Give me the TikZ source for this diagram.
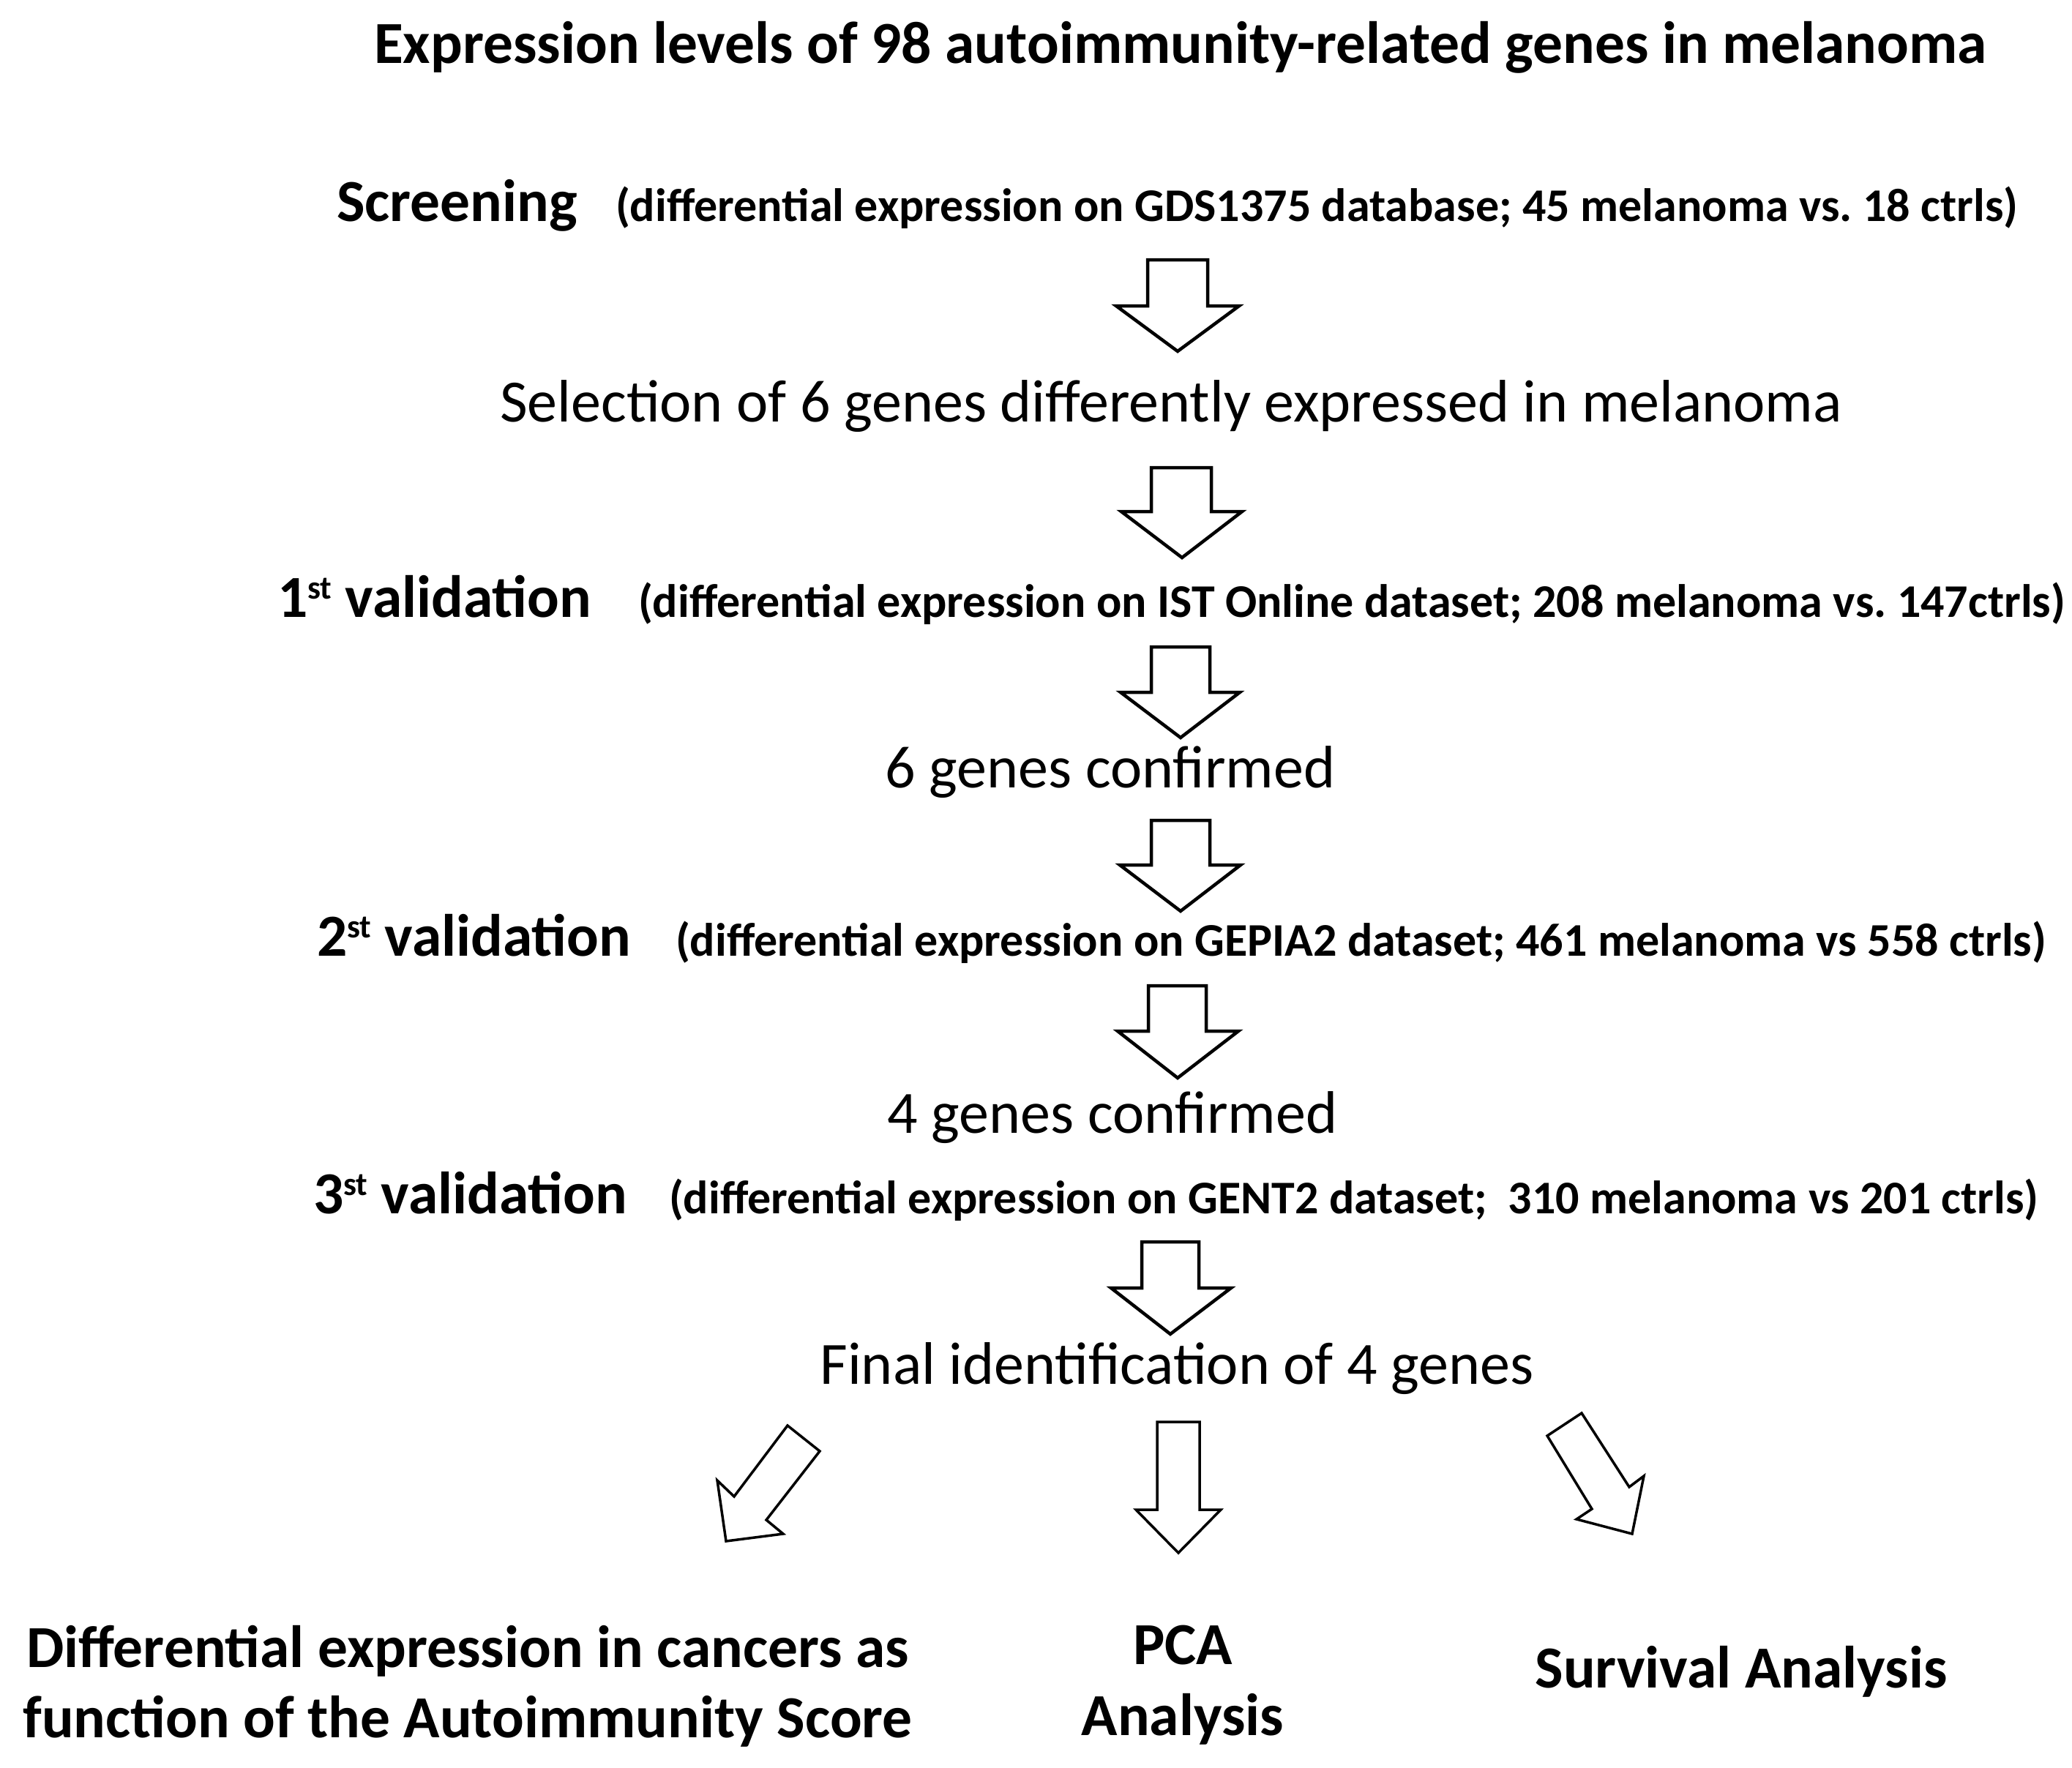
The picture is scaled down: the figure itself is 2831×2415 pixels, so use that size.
\documentclass[tikz,border=0pt]{standalone}
\usepackage{fontspec}
\setmainfont{Carlito}
\frenchspacing
\newcommand\supst{\raisebox{25pt}{\fontsize{45}{45}\selectfont st}}
\begin{document}
\begin{tikzpicture}[x=1pt,y=-1pt,
  txt/.style={font=\fontsize{82}{96}\selectfont, inner sep=0pt, outer sep=0pt},
  txtb/.style={font=\fontsize{81.5}{96}\selectfont\bfseries, inner sep=0pt, outer sep=0pt},
  paren/.style={font=\fontsize{64}{70}\selectfont\bfseries, inner sep=0pt, outer sep=0pt},
  blk/.style={draw=black, line width=4.5pt, fill=white, line join=miter}]
\useasboundingbox (0,0) rectangle (2831,2415);
\fill[white] (0,0) rectangle (2831,2415);

% texts
\node[txtb, anchor=base] (title) at (1613,86) {Expression levels of 98 autoimmunity-related genes in melanoma};
\node[txtb, anchor=base west] (scr) at (460,302) {Screening};
\node[paren, anchor=base west] (scrp) at (841,302) {(differential expression on GDS1375 database; 45 melanoma vs. 18 ctrls)};
\node[txt, anchor=base] (sel) at (1600,576) {Selection of 6 genes differently expressed in melanoma};
\node[txtb, anchor=base west] (v1) at (379,843) {1\supst{} validation};
\node[paren, anchor=base west] (v1p) at (872,843) {(differential expression on IST Online dataset; 208 melanoma vs. 147ctrls)};
\node[txt, anchor=base] (c6) at (1517,1076) {6 genes confirmed};
\node[txtb, anchor=base west] (v2) at (433,1306) {2\supst{} validation};
\node[paren, anchor=base west] (v2p) at (923,1306) {(differential expression on GEPIA2 dataset; 461 melanoma vs 558 ctrls)};
\node[txt, anchor=base] (c4) at (1520,1548) {4 genes confirmed};
\node[txtb, anchor=base west] (v3) at (428,1658) {3\supst{} validation};
\node[paren, anchor=base west] (v3p) at (914,1658) {(differential expression on GENT2 dataset;~ 310 melanoma vs 201 ctrls)};
\node[txt, anchor=base] (fin) at (1608,1891) {Final identification of 4 genes};
\node[txtb, anchor=base] (dea) at (639,2278) {Differential expression in cancers as};
\node[txtb, anchor=base] (deb) at (639,2374) {function of the Autoimmunity Score};
\node[txtb, anchor=base] (pcaa) at (1616,2274) {PCA};
\node[txtb, anchor=base] (pcab) at (1616,2371) {Analysis};
\node[txtb, anchor=base] (surv) at (2379,2306) {Survival Analysis};

% vertical block arrows
\draw[blk] (1568,355) -- (1650,355) -- (1650,418) -- (1693,418) -- (1609,480) -- (1525,418) -- (1568,418) -- cycle;
\draw[blk] (1573,639) -- (1655,639) -- (1655,699) -- (1697,699) -- (1615,762) -- (1532,699) -- (1573,699) -- cycle;
\draw[blk] (1573,884) -- (1653,884) -- (1653,946) -- (1694,946) -- (1613,1008) -- (1531,946) -- (1573,946) -- cycle;
\draw[blk] (1573,1121) -- (1653,1121) -- (1653,1182) -- (1695,1182) -- (1613,1245) -- (1530,1182) -- (1573,1182) -- cycle;
\draw[blk] (1569,1347) -- (1648,1347) -- (1648,1409) -- (1692,1409) -- (1609,1473) -- (1527,1409) -- (1569,1409) -- cycle;
\draw[blk] (1560,1697) -- (1638,1697) -- (1638,1760) -- (1682,1760) -- (1599,1823) -- (1518,1760) -- (1560,1760) -- cycle;

% bottom arrows
\draw[blk, line width=3.5pt] (1076,1948) -- (1120,1983) -- (1047,2077) -- (1070,2096) -- (992,2106) -- (980,2023) -- (1003,2045) -- cycle;
\draw[blk, line width=3.5pt] (1581,1943) -- (1639,1943) -- (1639,2063) -- (1668,2063) -- (1610,2122) -- (1552,2063) -- (1581,2063) -- cycle;
\draw[blk, line width=3.5pt] (2161,1931) -- (2226,2032) -- (2246,2017) -- (2230,2096) -- (2154,2076) -- (2175,2062) -- (2114,1962) -- cycle;
\end{tikzpicture}
\end{document}
